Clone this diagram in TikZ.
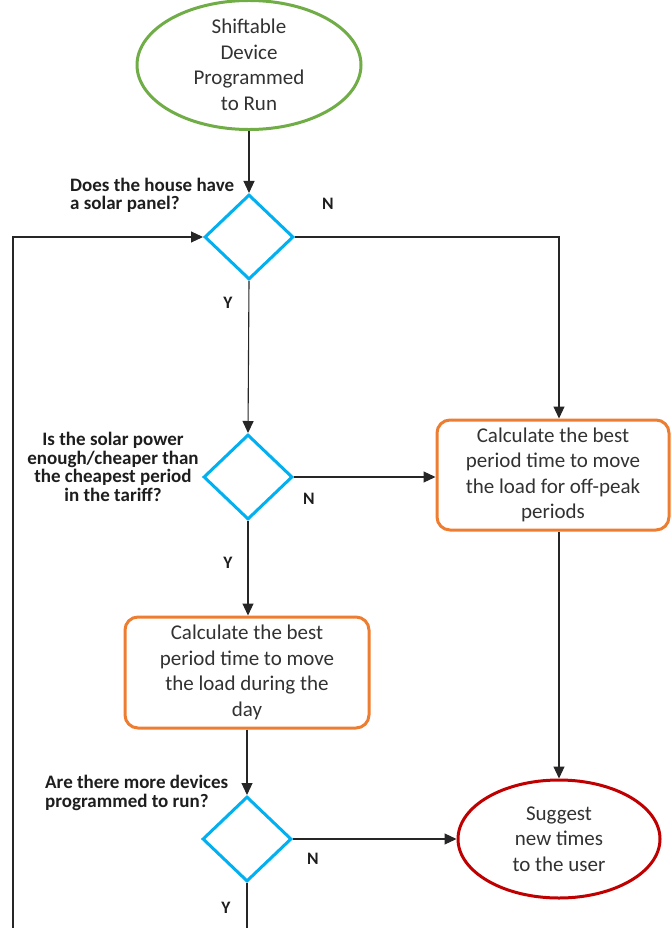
\documentclass[tikz,border=0pt]{standalone}
\usepackage{fontspec}
\setmainfont{Carlito}
\usetikzlibrary{shapes.geometric,arrows.meta,calc}
\definecolor{cgreen}{RGB}{112,173,71}
\definecolor{cblue}{RGB}{0,176,240}
\definecolor{corange}{RGB}{237,125,49}
\definecolor{cred}{RGB}{192,0,0}
\definecolor{ctext}{RGB}{50,50,50}
\definecolor{clabel}{RGB}{30,30,30}
\tikzset{
  terminal/.style={ellipse, draw, line width=3pt, inner sep=0pt, align=center, text=ctext,
    font=\fontsize{21}{25.5}\selectfont},
  decision/.style={diamond, draw=cblue, line width=3pt, inner sep=0pt, minimum width=89pt, minimum height=85pt},
  process/.style={draw=corange, line width=3pt, rounded corners=13pt, inner sep=0pt, align=center, text=ctext,
    font=\fontsize{21}{25.5}\selectfont},
  qlabel/.style={text=clabel, inner sep=0pt, font=\bfseries\fontsize{19}{18.5}\selectfont},
  yn/.style={text=clabel, inner sep=0pt, font=\bfseries\fontsize{17.5}{17}\selectfont},
  flow/.style={draw=black!85, line width=1.1pt, -{Triangle[length=12pt,width=11pt]}},
  plain/.style={draw=black!85, line width=1.1pt}
}
\begin{document}
\begin{tikzpicture}[x=1pt,y=-1pt]
\useasboundingbox[fill=white] (0,0) rectangle (670,928);
% nodes
\node[terminal, draw=cgreen, minimum width=224pt, minimum height=114pt] (start) at (249,65) {Shiftable\\Device\\Programmed\\to Run};
\node[decision] (d1) at (249,237) {};
\node[decision] (d2) at (248,477) {};
\node[decision] (d3) at (247,839) {};
\node[process, minimum width=232pt, minimum height=110pt] (b1) at (553,475) {Calculate the best\\period time to move\\the load for off-peak\\periods};
\node[process, minimum width=244pt, minimum height=111pt] (b2) at (247,672.5) {Calculate the best\\period time to move\\the load during the\\day};
\node[terminal, draw=cred, minimum width=202pt, minimum height=118pt] (stop) at (559,839) {Suggest\\new times\\to the user};
% question labels
\node[qlabel, anchor=west, align=left] (q1) at (70,195.5) {Does the house have\\a solar panel?};
\node[qlabel, align=center] (q2) at (113,467) {Is the solar power\\enough/cheaper than\\the cheapest period\\in the tariff?};
\node[qlabel, anchor=west, align=left] (q3) at (45,793) {Are there more devices\\programmed to run?};
% Y/N labels
\node[yn] (n1) at (328,204) {N};
\node[yn] (y1) at (228,303) {Y};
\node[yn] (n2) at (309,499) {N};
\node[yn] (y2) at (228,563) {Y};
\node[yn] (n3) at (313,859) {N};
\node[yn] (y3) at (226,908) {Y};
% connectors
\coordinate (loopbottom) at (13,945);
\draw[flow] (start.south) -- (d1.north);
\draw[flow] (d1.south) -- (d2.north);
\draw[flow] (d1.east) -| (stop.north |- b1.north);
\draw[flow] (d2.east) -- (d2.east -| b1.west);
\draw[flow] (d2.south) -- (d2.south |- b2.north);
\draw[flow] (b2.south -| d3.north) -- (d3.north);
\draw[flow] (d3.east) -- (stop.west);
\draw[flow] (b1.south -| stop.north) -- (stop.north);
\draw[flow] (d3.south) |- (loopbottom) |- (d1.west);
\end{tikzpicture}
\end{document}
